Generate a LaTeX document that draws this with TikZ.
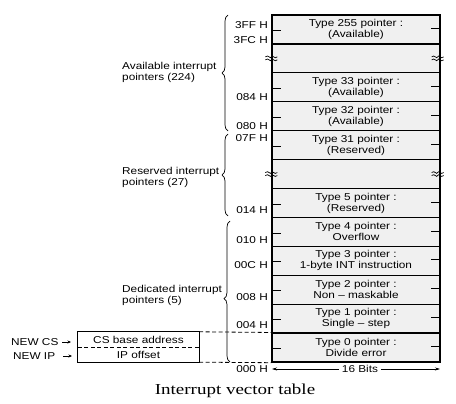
\documentclass[tikz,border=0pt]{standalone}
\usepackage{fontspec}
\setmainfont{Liberation Sans}
\newfontfamily\capfont[FakeStretch=1.25]{Liberation Serif}
\newfontfamily\labfont[FakeStretch=1.18]{Liberation Sans}
\usetikzlibrary{decorations.pathreplacing,arrows.meta}
\begin{document}
\begin{tikzpicture}[x=1pt,y=-1pt,
  lab/.style={font=\labfont\fontsize{10}{11}\selectfont},
  cell/.style={lab,draw=black,line width=1.3pt,fill=gray!12,minimum width=168pt,
    minimum height=28.92pt,inner sep=0pt,align=center},
  addr/.style={lab,anchor=east,inner sep=0pt},
  grp/.style={lab,anchor=west,inner sep=0pt,align=left},
  brc/.style={decorate,decoration={brace,amplitude=6pt},line width=0.7pt},
  tick/.style={line width=0.7pt},
  dsh/.style={dashed,line width=0.8pt,dash pattern=on 4pt off 2.5pt},
  arr/.style={-{Stealth[length=3.5pt,width=3pt]},line width=0.7pt},
  wav/.pic={\draw[line width=0.7pt] (-6,-1.5) .. controls (-3,-4.5) and (-1,1.5) .. (0,-1.5) .. controls (1,-4.5) and (3,1.5) .. (6,-1.5);
            \draw[line width=0.7pt] (-6,1.5) .. controls (-3,-1.5) and (-1,4.5) .. (0,1.5) .. controls (1,-1.5) and (3,4.5) .. (6,1.5);}
]
\useasboundingbox (0,0) rectangle (456,404);

% table rows
\node[cell] (r255) at (356,29.46) {Type 255 pointer :\\(Available)};
\node[cell] (gapA) at (356,58.38) {};
\node[cell] (r33)  at (356,87.30) {Type 33 pointer :\\(Available)};
\node[cell] (r32)  at (356,116.22) {Type 32 pointer :\\(Available)};
\node[cell] (r31)  at (356,145.14) {Type 31 pointer :\\(Reserved)};
\node[cell] (gapB) at (356,174.06) {};
\node[cell] (r5)   at (356,202.98) {Type 5 pointer :\\(Reserved)};
\node[cell] (r4)   at (356,231.90) {Type 4 pointer :\\Overflow};
\node[cell] (r3)   at (356,260.82) {Type 3 pointer :\\1-byte INT instruction};
\node[cell] (r2)   at (356,289.74) {Type 2 pointer :\\Non – maskable};
\node[cell] (r1)   at (356,318.66) {Type 1 pointer :\\Single – step};
\node[cell] (r0)   at (356,347.58) {Type 0 pointer :\\Divide error};

% ticks
\foreach \r in {r255,r33,r32,r31,r5,r4,r3,r2,r1,r0}{
  \draw[tick] ([yshift=-1pt]\r.west) -- ++(10,0);
  \draw[tick] ([yshift=1pt]\r.east) -- ++(-10,0);
}
% break marks
\pic at (gapA.west) {wav};
\pic at ([xshift=-3pt]gapA.east) {wav};
\pic at (gapB.west) {wav};
\pic at ([xshift=-3pt]gapB.east) {wav};

% addresses
\node[addr] (a3ff) at (268,25) {3FF H};
\node[addr] (a3fc) at (268,40) {3FC H};
\node[addr] (a084) at (268,97) {084 H};
\node[addr] (a080) at (268,126) {080 H};
\node[addr] (a07f) at (268,138) {07F H};
\node[addr] (a014) at (268,210) {014 H};
\node[addr] (a010) at (268,240) {010 H};
\node[addr] (a00c) at (268,265) {00C H};
\node[addr] (a008) at (268,297) {008 H};
\node[addr] (a004) at (268,325) {004 H};
\node[addr] (a000) at (268,369) {000 H};

% braces
\coordinate (bAt) at (228,15);   \coordinate (bAb) at (228,131);
\coordinate (bRt) at (228,134);  \coordinate (bRb) at (228,216);
\coordinate (bDt) at (230,221);  \coordinate (bDb) at (230,362);
\draw[brc] (bAb) -- (bAt);
\draw[brc] (bRb) -- (bRt);
\draw[brc,decoration={aspect=0.45}] (bDb) -- (bDt);

\node[grp] (gA) at (122,72.5) {Available interrupt\\pointers (224)};
\node[grp] (gR) at (122,177.5) {Reserved interrupt\\pointers (27)};
\node[grp] (gD) at (122,295) {Dedicated interrupt\\pointers (5)};

% CS:IP box
\node[lab,minimum width=121pt,minimum height=15pt,inner sep=0pt] (cs) at (138.5,339.5) {CS base address};
\node[lab,minimum width=121pt,minimum height=15pt,inner sep=0pt] (ip) at (138.5,354.5) {IP offset};
\draw[line width=1.3pt] (cs.north west) rectangle (ip.south east);
\draw[dsh] (cs.south west) -- (cs.south east);
\draw[dsh] (cs.north east) -- (r0.north west);
\draw[dsh] (ip.south east) -- (r0.south west);

\node[lab,anchor=west,inner sep=0pt] (newcs) at (11,342) {NEW CS};
\node[lab,anchor=west,inner sep=0pt] (newip) at (13,356) {NEW IP};
\coordinate (csA) at (62,342);  \coordinate (csB) at (71,342);
\coordinate (ipA) at (63,356);  \coordinate (ipB) at (72,356);
\draw[arr] (csA) -- (csB);
\draw[arr] (ipA) -- (ipB);

% 16 bits
\coordinate (bitL) at (272,369);
\coordinate (bitR) at (440,369);
\draw[{Stealth[length=5pt,width=3pt]}-{Stealth[length=5pt,width=3pt]},line width=0.6pt] (bitL) -- (bitR);
\node[lab,fill=white,inner xsep=3pt,inner ysep=0pt] (bits) at (360,369) {16 Bits};

% caption
\node[font=\capfont\fontsize{15.2}{17}\selectfont,inner sep=0pt] (cap) at (235,391) {Interrupt vector table};
\end{tikzpicture}
\end{document}
